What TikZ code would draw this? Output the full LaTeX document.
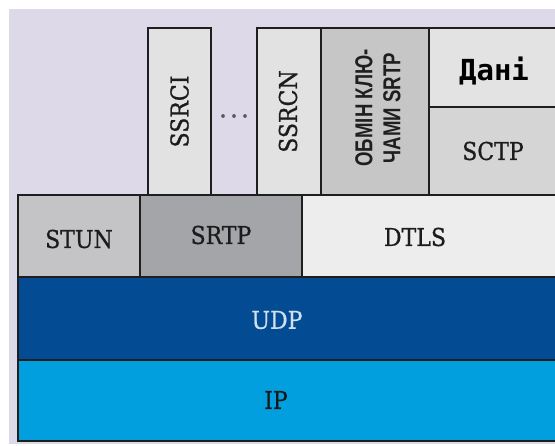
\documentclass[tikz,border=0pt]{standalone}
\usepackage{fontspec}
\setmainfont[FakeBold=0.8]{DejaVu Serif Condensed}
\newfontfamily\kxfont[FakeStretch=0.76]{Liberation Sans}
\newfontfamily\monofont{DejaVu Sans Mono}

\definecolor{bglav}{HTML}{DDD9E8}
\definecolor{edge}{HTML}{1E1E1E}
\definecolor{stunfill}{HTML}{C4C4C6}
\definecolor{srtpfill}{HTML}{A3A5A9}
\definecolor{dtlsfill}{HTML}{EDEDED}
\definecolor{ssrcfill}{HTML}{E2E2E2}
\definecolor{kxfill}{HTML}{C6C6C6}
\definecolor{datafill}{HTML}{E3E3E3}
\definecolor{sctpfill}{HTML}{D5D5D5}
\definecolor{udpfill}{HTML}{034B93}
\definecolor{ipfill}{HTML}{019FDE}
\definecolor{udptext}{HTML}{CFE0F0}
\definecolor{labeltext}{HTML}{1C1C1C}

\tikzset{
  layer/.style={draw=edge, line width=1.6pt, inner sep=0pt, outer sep=0pt,
                anchor=north west, text=labeltext,
                font=\fontsize{24.5}{28}\selectfont},
  lbl/.style={inner sep=0pt, text=labeltext, font=\fontsize{24.5}{28}\selectfont},
}

\begin{document}
\begin{tikzpicture}[x=1pt, y=-1pt]
  \useasboundingbox (0,0) rectangle (555,446);
  \clip (0,0) rectangle (555,446);
  \fill[white] (0,0) rectangle (555,446);
  \fill[bglav] (9,9) rectangle (560,444);

  % upper protocols
  \node[layer, fill=ssrcfill, minimum width=63pt, minimum height=167pt] (ssrci) at (148,28) {};
  \node[layer, fill=ssrcfill, minimum width=64pt, minimum height=167pt] (ssrcn) at (257,28) {};
  \node[layer, fill=kxfill, minimum width=108pt, minimum height=167pt] (kx) at (321,28) {};
  \node[layer, fill=datafill, minimum width=131pt, minimum height=79pt] (data) at (429,28) {};
  \node[layer, fill=sctpfill, minimum width=131pt, minimum height=88pt] (sctp) at (429,107) {};

  \node[lbl, rotate=90] (ssrcilbl) at (ssrci.center) {SSRCI};
  \node[lbl, rotate=90] (ssrcnlbl) at ([xshift=-1pt]ssrcn.center) {SSRCN};
  \node[lbl, text=black!65, font=\fontsize{28}{30}\selectfont] (dots) at (234,116)
        {.\hspace{3pt}.\hspace{3pt}.};
  \node[lbl, rotate=90, align=center, text=black!88,
        font=\kxfont\bfseries\fontsize{24.5}{28}\selectfont] (kxlbl) at (378,108)
        {ОБМІН КЛЮ-\\ЧАМИ SRTP};
  \node[lbl, text=black, font=\monofont\bfseries\fontsize{29}{30}\selectfont] (datalbl) at (494,71) {Дані};
  \node[lbl] (sctplbl) at (493,151) {SCTP};

  % middle row
  \node[layer, fill=stunfill, minimum width=122pt, minimum height=82pt] (stun) at (18,195) {};
  \node[layer, fill=srtpfill, minimum width=162pt, minimum height=82pt] (srtp) at (140,195) {};
  \node[layer, fill=dtlsfill, minimum width=258pt, minimum height=82pt] (dtls) at (302,195) {};
  \node[lbl] (stunlbl) at (79,239) {STUN};
  \node[lbl] (srtplbl) at (221,235) {SRTP};
  \node[lbl] (dtlslbl) at (415,237) {DTLS};

  % transport and network
  \node[layer, fill=udpfill, minimum width=542pt, minimum height=83pt] (udp) at (18,277) {};
  \node[layer, fill=ipfill, minimum width=542pt, minimum height=81pt] (ip) at (18,360) {};
  \node[lbl, text=udptext] (udplbl) at (277,320) {UDP};
  \node[lbl, text=black!90] (iplbl) at (276,400) {IP};
\end{tikzpicture}
\end{document}
